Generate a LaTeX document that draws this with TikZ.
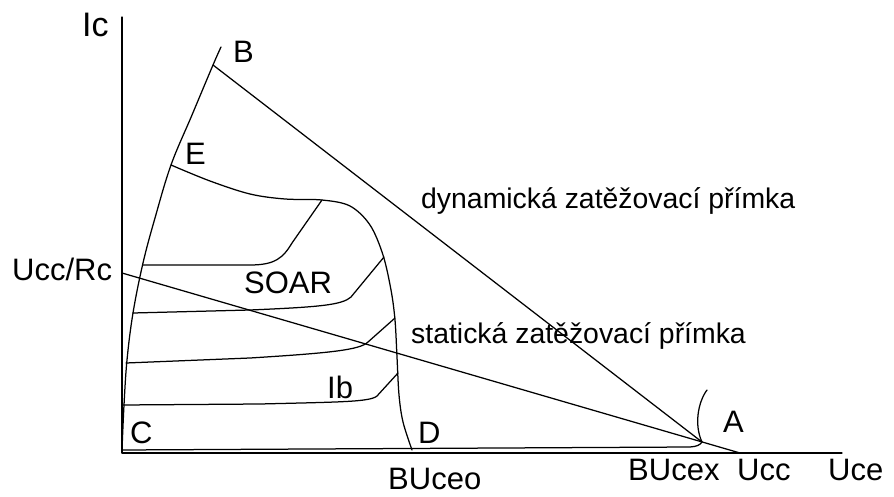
\documentclass[tikz,border=0pt]{standalone}
\usepackage{fontspec}
\setmainfont{Liberation Sans}
\begin{document}
\begin{tikzpicture}[x=1pt,y=-1pt,
  lbl/.style={inner sep=0pt,anchor=base west,font=\fontsize{31}{33}\selectfont},
  txt/.style={inner sep=0pt,anchor=base west,font=\fontsize{28.4}{30}\selectfont},
  ln/.style={line width=1.25pt,line join=round,line cap=round}]
\useasboundingbox (0,0) rectangle (894,497);
% key points
\coordinate (O) at (122,453);
\coordinate (Ytop) at (122,17);
\coordinate (Xend) at (842,453);
\coordinate (Bp) at (213,65);
\coordinate (Ap) at (702,442);
\coordinate (UccRcP) at (122,273);
\coordinate (UccP) at (740,453);
\coordinate (Ep) at (171,165);
% axes
\draw[ln] (Ytop) -- (O) -- (Xend);
% load lines
\draw[ln] (Bp) -- (Ap);
\draw[ln] (UccRcP) -- (UccP);
% left boundary C-B
\draw[ln] plot[smooth,tension=0.6] coordinates {(122,450) (124,405) (127,360) (133,313) (143,263) (155,218) (Ep) (192,115) (Bp) (221,47)};
% E-D boundary
\draw[ln] plot[smooth,tension=0.55] coordinates {(Ep) (210,181) (250,194) (285,199) (322,200) (350,206) (370,225) (383,255) (391,290) (395,320) (397,357) (399,395) (403,422) (412,450)};
% Ib curves
\draw[ln] (143,265) -- (250,265) .. controls (275,265) and (283,258) .. (292,243) -- (322,200);
\draw[ln] (133,313) -- (250,310) .. controls (320,307) and (342,305) .. (351,297) -- (384,257);
\draw[ln] (126,363) -- (250,358) .. controls (330,353) and (360,350) .. (368,342) -- (395,318);
\draw[ln] (122,405) -- (260,404) .. controls (340,402) and (370,402) .. (377,396) -- (398,373);
\draw[ln] (122,450) -- (690,447) .. controls (697,446.5) and (700,445) .. (Ap);
\draw[ln] (Ap) .. controls (694,425) and (698,402) .. (707,390);
% labels
\node[lbl,font=\fontsize{34}{36}\selectfont] (Ic) at (82,37) {Ic};
\node[lbl] (B) at (233,63) {B};
\node[lbl] (E) at (185,165) {E};
\node[lbl] (UccRc) at (12,280) {Ucc/Rc};
\node[lbl] (SOAR) at (244,293) {SOAR};
\node[lbl] (Ib) at (327,398) {Ib};
\node[lbl] (C) at (130,443) {C};
\node[lbl] (D) at (418,443) {D};
\node[lbl] (A) at (723,432) {A};
\node[txt] (dyn) at (421,208) {dynamická zatěžovací přímka};
\node[txt] (stat) at (411,343) {statická zatěžovací přímka};
\node[lbl] (BUceo) at (388,489) {BUceo};
\node[lbl] (BUcex) at (628,480) {BUcex};
\node[lbl] (Ucc) at (737,480) {Ucc};
\node[lbl] (Uce) at (828,480) {Uce};
\end{tikzpicture}
\end{document}
